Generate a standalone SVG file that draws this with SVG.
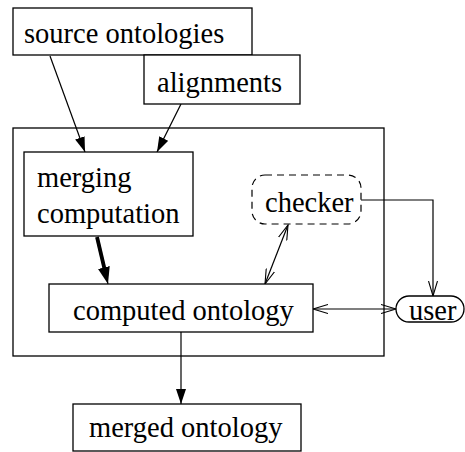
<svg xmlns="http://www.w3.org/2000/svg" width="465" height="452" viewBox="0 0 465 452">
<defs>
<style>
.box{fill:#fff;stroke:#000;stroke-width:1.3}
.frame{fill:none;stroke:#000;stroke-width:1.3}
.t{font-family:"Liberation Serif","Times New Roman",serif;font-size:28.5px;fill:#000}
.c{fill:none;stroke:#000;stroke-width:1.2}
.thick{stroke-width:3.8}
</style>
<marker id="fill" markerUnits="userSpaceOnUse" markerWidth="16" markerHeight="10" refX="15" refY="5" orient="auto" viewBox="0 0 16 10">
<path d="M0,0 L15,5 L0,10 Z" fill="#000"/>
</marker>
<marker id="fillBig" markerUnits="userSpaceOnUse" markerWidth="18" markerHeight="12" refX="17" refY="6" orient="auto" viewBox="0 0 18 12">
<path d="M0,0 L17,6 L0,12 Z" fill="#000"/>
</marker>
<marker id="open" markerUnits="userSpaceOnUse" markerWidth="16" markerHeight="10" refX="15" refY="5" orient="auto" viewBox="0 0 16 10">
<path d="M0,0.5 L15,5 L0,9.5" fill="none" stroke="#000" stroke-width="1.1"/>
</marker>
<marker id="openStart" markerUnits="userSpaceOnUse" markerWidth="16" markerHeight="10" refX="1" refY="5" orient="auto" viewBox="0 0 16 10">
<path d="M16,0.5 L1,5 L16,9.5" fill="none" stroke="#000" stroke-width="1.1"/>
</marker>
</defs>
<g id="container"><rect class="frame" x="13" y="128" width="371" height="228"/></g>
<g id="connectors">
<line class="c" x1="50" y1="56" x2="85" y2="152" marker-end="url(#fill)"/>
<line class="c" x1="181" y1="104" x2="157" y2="152" marker-end="url(#fill)"/>
<line class="c thick" x1="97" y1="237" x2="105" y2="271"/>
<line class="c" x1="104" y1="268" x2="108" y2="284" marker-end="url(#fillBig)"/>
<line class="c" x1="288" y1="225" x2="265" y2="284" marker-start="url(#openStart)" marker-end="url(#open)"/>
<polyline class="c" points="361,200 433,200 433,296" marker-end="url(#open)"/>
<line class="c" x1="313" y1="309" x2="396" y2="309" marker-start="url(#openStart)" marker-end="url(#open)"/>
<line class="c" x1="181" y1="332" x2="181" y2="404" marker-end="url(#fill)"/>
</g>
<g id="source"><rect class="box" x="13" y="8" width="239" height="47"/><text class="t" x="24" y="43">source ontologies</text></g>
<g id="alignments"><rect class="box" x="144" y="55" width="156" height="49"/><text class="t" x="157" y="92">alignments</text></g>
<g id="merging"><rect class="box" x="24" y="152" width="169" height="84"/><text class="t" x="37" y="187">merging</text><text class="t" x="37" y="223">computation</text></g>
<g id="checker"><rect x="252" y="175" width="109" height="49" rx="13" fill="#fff" stroke="#000" stroke-width="1.2" stroke-dasharray="7,5"/><text class="t" x="265" y="212">checker</text></g>
<g id="computed"><rect class="box" x="49" y="284" width="264" height="48"/><text class="t" x="73" y="320">computed ontology</text></g>
<g id="user"><rect class="box" x="396" y="296" width="68" height="26" rx="13"/><text class="t" x="409" y="320">user</text></g>
<g id="merged"><rect class="box" x="73" y="404" width="228" height="47"/><text class="t" x="89" y="437">merged ontology</text></g>
</svg>
